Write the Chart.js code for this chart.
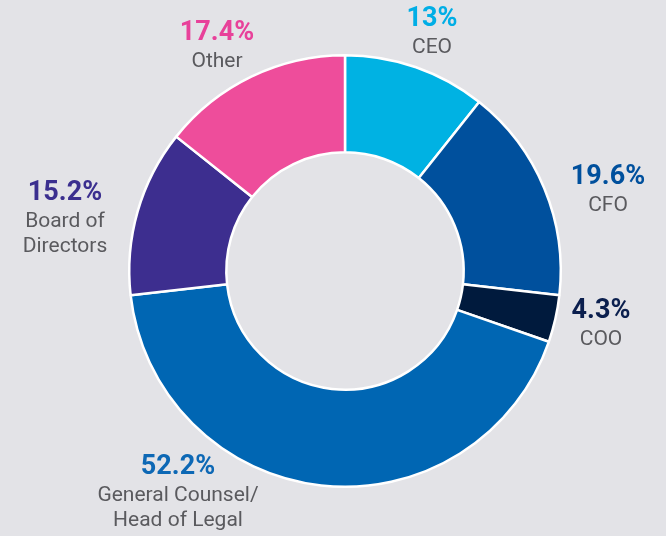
<!DOCTYPE html>
<html>
<head>
<meta charset="utf-8">
<script src="https://cdn.jsdelivr.net/npm/chart.js@4.4.0/dist/chart.umd.min.js"></script>
<style>
  html, body { margin: 0; padding: 0; background: #e3e3e7; }
  #wrap { width: 666px; height: 536px; position: relative; }
</style>
</head>
<body>
<div id="wrap"><canvas id="donut" width="666" height="536"></canvas></div>
<script>
const categories = ["CEO", "CFO", "COO", "General Counsel/\nHead of Legal", "Board of\nDirectors", "Other"];
const shares = [13, 19.6, 4.3, 52.2, 15.2, 17.4];
const sliceColors = ["#00b2e3", "#00509d", "#001a3d", "#0066b3", "#3d2e8f", "#ee4d9b"];
const pctColors = ["#00aee6", "#00509d", "#0b1f4e", "#0d68b5", "#3b2f8f", "#e8419a"];

// where each label sits (center x, y of the percentage line)
const labelSpots = [
    [432, 19], [608, 177], [601, 311], [178, 467], [65, 193], [217, 33]
];

const outsideLabels = {
    id: "outsideLabels",
    afterDraw(chart) {
        const ctx = chart.ctx;
        ctx.save();
        ctx.textAlign = "center";
        ctx.textBaseline = "middle";
        shares.forEach((v, i) => {
            const [x, y] = labelSpots[i];
            ctx.font = "bold 27px Roboto";
            ctx.fillStyle = pctColors[i];
            ctx.fillText(v + "%", x, y);
            ctx.font = "21px Roboto";
            ctx.fillStyle = "#5a5a5e";
            categories[i].split("\n").forEach((line, j) => {
                ctx.fillText(line, x, y + 29 + j * 25);
            });
        });
        ctx.restore();
    }
};

new Chart(document.getElementById("donut").getContext("2d"), {
    type: "doughnut",
    data: {
        labels: categories,
        datasets: [{
            data: shares,
            backgroundColor: sliceColors,
            borderColor: "#ffffff",
            borderWidth: 2.5
        }]
    },
    options: {
        responsive: false,
        animation: false,
        cutout: "55%",
        layout: {
            padding: { left: 128, right: 104, top: 54, bottom: 48 }
        },
        plugins: {
            legend: { display: false },
            tooltip: { enabled: false }
        }
    },
    plugins: [outsideLabels]
});
</script>
</body>
</html>
